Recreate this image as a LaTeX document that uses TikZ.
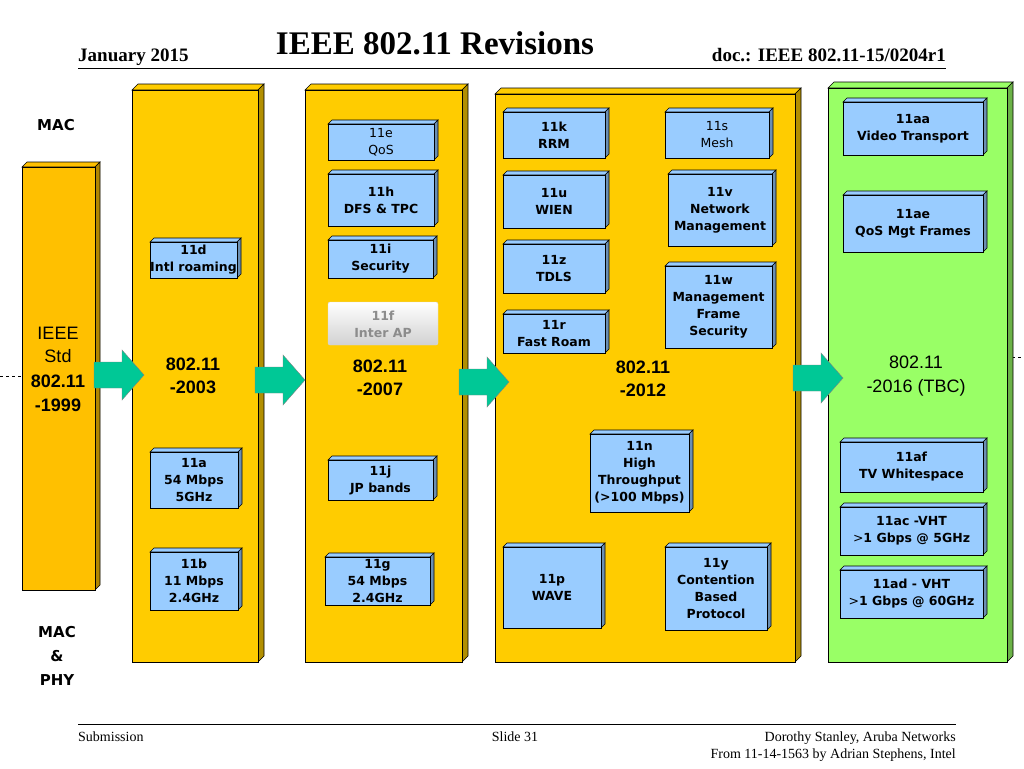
\documentclass[tikz,border=0pt]{standalone}
\usepackage{fontspec}
\setmainfont{Liberation Serif}
\newfontfamily\vfont{DejaVu Sans}
\newfontfamily\afont{Liberation Sans}
\definecolor{colY}{HTML}{FFCC00}
\definecolor{colO}{HTML}{FFC000}
\definecolor{colG}{HTML}{99FF66}
\definecolor{colB}{HTML}{99CCFF}
\definecolor{colT}{HTML}{00C896}
\newcommand\tdbox[9]{% name x1 y1 x2 y2 depth front side text
  \filldraw[draw=#9,fill=#8,line width=0.6pt] (#2,#3+#6)--(#2+#6,#3)--(#4,#3)--(#4-#6,#3+#6)--cycle;
  \filldraw[draw=black,fill=#8!70!black,line width=0.6pt] (#4-#6,#3+#6)--(#4,#3)--(#4,#5-#6)--(#4-#6,#5)--cycle;
  \filldraw[draw=black,fill=#7,line width=0.6pt] (#2,#3+#6) rectangle (#4-#6,#5);
  \coordinate (#1) at ({(#2+#4-#6)/2},{(#3+#5+#6)/2});}
\newcommand\bx[6]{\tdbox{#1}{#2}{#3}{#4}{#5}{4}{colB}{colB}{black}
  \node[boxtxt] (#1t) at (#1) {#6};}
\newcommand\barrow[3]{\coordinate (#1) at (#2,#3);
  \filldraw[fill=colT,draw=black!50,line width=0.4pt,shift={(#1)}]
   (-25,-13)--(3,-13)--(3,-25)--(25,0)--(3,25)--(3,13)--(-25,13)--cycle;}
\tikzset{boxtxt/.style={font=\vfont\bfseries\fontsize{12.5}{17}\selectfont,align=center,inner sep=0pt},
 boxtxtn/.style={font=\vfont\fontsize{12.5}{17}\selectfont,align=center,inner sep=0pt},
 collab/.style={font=\afont\bfseries\fontsize{18}{23}\selectfont,align=center,inner sep=0pt},
 hdr/.style={font=\bfseries\fontsize{19}{21}\selectfont,inner sep=0pt},
 ftr/.style={font=\fontsize{14}{16}\selectfont,inner sep=0pt}}
\begin{document}
\begin{tikzpicture}[x=1pt,y=-1pt]
\useasboundingbox (0,0) rectangle (1024,768);
% header
\node[hdr,anchor=base west] (jan) at (78,62) {January 2015};
\node[font=\bfseries\fontsize{33}{36}\selectfont,inner sep=0pt,anchor=base] (title) at (435,55) {IEEE 802.11 Revisions};
\node[hdr,anchor=base east] (doc) at (946,62) {doc.: IEEE 802.11-15/0204r1};
\coordinate (hl) at (78,68); \coordinate (hr) at (946,68);
\draw[line width=0.8pt] (hl) -- (hr);
% dashed lines
\coordinate (d1) at (0,376); \coordinate (d2) at (22,376);
\coordinate (d3) at (1000,357); \coordinate (d4) at (1024,357);
\draw[dashed] (d1)--(d2); \draw[dashed] (d3)--(d4);
% columns
\tdbox{c0}{22}{162}{100}{590}{5}{colO}{colO}{black}
\tdbox{c1}{132}{84}{264}{662}{6}{colY}{colY}{black}
\tdbox{c2}{305}{84}{468}{662}{6}{colY}{colY}{black}
\tdbox{c3}{495}{88}{801}{662}{6}{colY}{colY}{black}
\tdbox{c4}{828}{82}{1013}{662}{6}{colG}{colG}{black}
% labels
\node[font=\vfont\bfseries\fontsize{15}{18}\selectfont] (mac) at (56,125) {MAC};
\node[font=\vfont\bfseries\fontsize{15}{24}\selectfont,align=center] (macphy) at (57,656) {MAC\\\&\\PHY};
\node[font=\afont\fontsize{18}{23}\selectfont,align=center,inner sep=0pt] (l0a) at (58,345) {IEEE\\Std};
\node[collab] (l0b) at (58,393) {802.11\\[1pt] -1999};
\node[collab] (l1) at (193,376) {802.11\\-2003};
\node[collab] (l2) at (380,378) {802.11\\-2007};
\node[collab] (l3) at (643,379) {802.11\\-2012};
\node[collab,font=\afont\fontsize{18}{24}\selectfont] (l4) at (916,376) {802.11\\-2016 (TBC)};
% boxes col1
\bx{b11d}{150}{238}{241}{278}{11d\\Intl roaming}
\bx{b11a}{150}{448}{242}{508}{11a\\54 Mbps\\5GHz}
\bx{b11b}{150}{548}{242}{610}{11b\\11 Mbps\\2.4GHz}
% col2
\tdbox{b11e}{328}{120}{438}{160}{4}{colB}{colB}{black}
\node[boxtxtn] (b11et) at (b11e) {11e\\QoS};
\bx{b11h}{328}{170}{438}{226}{11h\\DFS \& TPC}
\bx{b11i}{328}{236}{437}{278}{11i\\Security}
\shade[top color=white,bottom color=black!18,draw=black!15,rounded corners=2pt] (328,302) rectangle (438,345);
\coordinate (b11f) at (383,324);
\node[boxtxt,text=black!45] (b11ft) at (b11f) {11f\\Inter AP};
\bx{b11j}{328}{456}{437}{500}{11j\\JP bands}
\bx{b11g}{325}{553}{434}{605}{11g\\54 Mbps\\2.4GHz}
% col3
\bx{b11k}{503}{108}{609}{158}{11k\\RRM}
\tdbox{b11s}{665}{108}{773}{158}{4}{colB}{colB}{black}
\node[boxtxtn] (b11st) at (b11s) {11s\\Mesh};
\bx{b11u}{503}{171}{609}{228}{11u\\WIEN}
\bx{b11v}{668}{170}{776}{246}{11v\\Network\\Management}
\bx{b11z}{503}{240}{609}{293}{11z\\TDLS}
\bx{b11w}{665}{262}{776}{348}{11w\\Management\\Frame\\Security}
\bx{b11r}{503}{310}{609}{353}{11r\\Fast Roam}
\bx{b11n}{590}{430}{693}{512}{11n\\High\\Throughput\\(>100 Mbps)}
\bx{b11p}{503}{543}{605}{628}{11p\\WAVE}
\bx{b11y}{665}{543}{771}{630}{11y\\Contention\\Based\\Protocol}
% col4
\bx{b11aa}{843}{98}{987}{155}{11aa\\Video Transport}
\bx{b11ae}{843}{191}{987}{252}{11ae\\QoS Mgt Frames}
\bx{b11af}{840}{438}{987}{492}{11af\\TV Whitespace}
\bx{b11ac}{840}{503}{987}{555}{11ac -VHT\\{\mdseries >}1 Gbps @ 5GHz}
\bx{b11ad}{840}{566}{987}{618}{11ad - VHT\\{\mdseries >}1 Gbps @ 60GHz}
% arrows
\barrow{a1}{119}{375}
\barrow{a2}{280}{380}
\barrow{a3}{484}{382}
\barrow{a4}{818}{378}
% footer
\coordinate (fl) at (78,724); \coordinate (fr) at (956,724);
\draw[line width=0.8pt] (fl) -- (fr);
\node[ftr,anchor=base west] (sub) at (78,741) {Submission};
\node[ftr,anchor=base] (slide) at (515,741) {Slide 31};
\node[ftr,anchor=base east] (auth) at (956,741) {Dorothy Stanley, Aruba Networks};
\node[ftr,anchor=base east] (from) at (956,758) {From 11-14-1563 by Adrian Stephens, Intel};
\end{tikzpicture}
\end{document}
